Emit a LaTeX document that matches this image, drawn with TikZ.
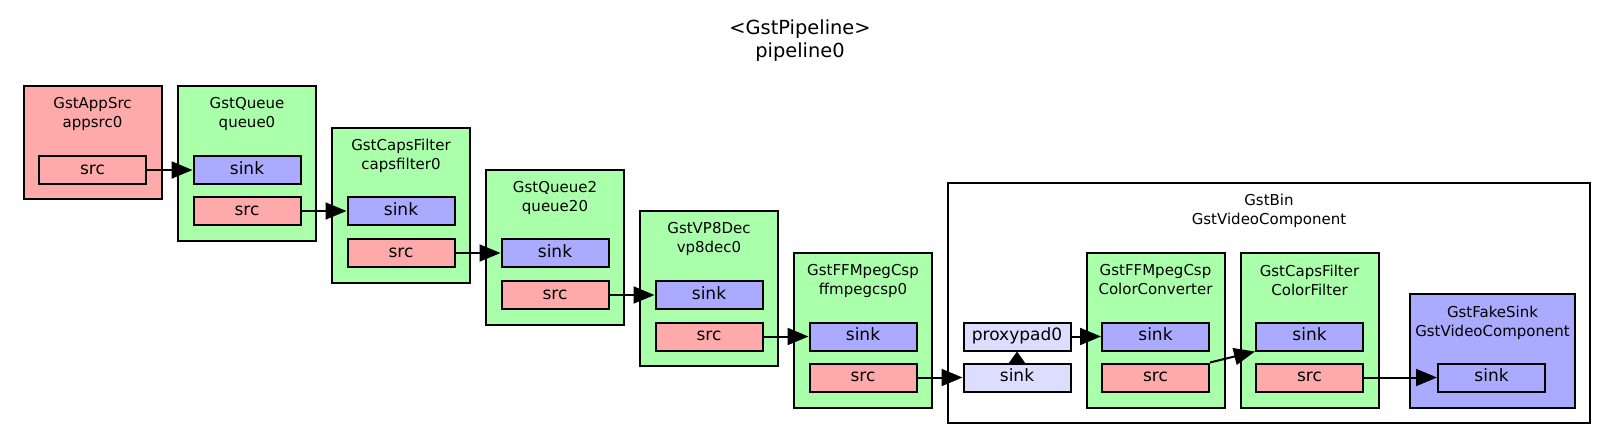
\documentclass[tikz,border=0pt]{standalone}
\usepackage{fontspec}
\setmainfont{DejaVu Sans}
\usetikzlibrary{arrows.meta}
\definecolor{srccol}{HTML}{FFAAAA}
\definecolor{sinkcol}{HTML}{AAAAFF}
\definecolor{elemcol}{HTML}{AAFFAA}
\definecolor{proxycol}{HTML}{DDDDFF}
\begin{document}
\begin{tikzpicture}
	[x=1pt,y=-1pt,line width=2pt,>={Triangle[length=21pt,width=17pt]},
	elem/.style={draw,fill=elemcol,minimum width=138pt,minimum height=155pt,inner sep=0pt},
	bin/.style={draw,fill=white,inner sep=0pt},
	pad/.style={draw,minimum width=107pt,minimum height=28pt,inner sep=0pt,text height=12.5pt,text depth=3.9pt,font=\fontsize{17}{20}\selectfont},
	sinkpad/.style={pad,fill=sinkcol},
	srcpad/.style={pad,fill=srccol},
	proxypad/.style={pad,fill=proxycol},
	elemname/.style={label={[anchor=north,inner sep=0pt,yshift=-11.6pt,align=center,font=\fontsize{15}{19}\selectfont]north:{#1}}}]
\useasboundingbox (0,0) rectangle (1600,447);
\node[align=center,font=\fontsize{19.4}{23}\selectfont] (pipeline) at (800,40.5) {<GstPipeline>\\pipeline0};
\node[elem,fill=srccol,minimum height=113pt,elemname={GstAppSrc\\appsrc0}] (appsrc) at (92.5,142.5) {};
\node[elem,elemname={GstQueue\\queue0}] (queue) at (247,163.5) {};
\node[elem,elemname={GstCapsFilter\\capsfilter0}] (capsfilter) at (401,205.5) {};
\node[elem,elemname={GstQueue2\\queue20}] (queuetwo) at (555,247.5) {};
\node[elem,elemname={GstVP8Dec\\vp8dec0}] (vpdec) at (709,288.5) {};
\node[elem,elemname={GstFFMpegCsp\\ffmpegcsp0}] (ffmpegcsp) at (863,330.5) {};
\node[bin,minimum width=642pt,minimum height=240pt,elemname={GstBin\\GstVideoComponent}] (videobin) at (1269,303) {};
\node[elem,elemname={GstFFMpegCsp\\ColorConverter}] (converter) at (1155.5,330.5) {};
\node[elem,elemname={GstCapsFilter\\ColorFilter}] (colorfilter) at (1309.5,330.5) {};
\node[elem,fill=sinkcol,minimum width=165pt,minimum height=114pt,elemname={GstFakeSink\\GstVideoComponent}] (fakesink) at (1492.5,351) {};
\node[srcpad] (appsrcsrc) at (92.5,170) {src};
\node[sinkpad] (queuesink) at (247,170) {sink};
\node[srcpad] (queuesrc) at (247,211) {src};
\node[sinkpad] (capssink) at (401,211) {sink};
\node[srcpad] (capssrc) at (401,253) {src};
\node[sinkpad] (queuetwosink) at (555,253) {sink};
\node[srcpad] (queuetwosrc) at (555,295) {src};
\node[sinkpad] (vpdecsink) at (709,295) {sink};
\node[srcpad] (vpdecsrc) at (709,336.5) {src};
\node[sinkpad] (ffmpegsink) at (863,336.5) {sink};
\node[srcpad] (ffmpegsrc) at (863,377.5) {src};
\node[proxypad] (proxypad0) at (1017,336.5) {proxypad0};
\node[proxypad] (binsink) at (1017,377.5) {sink};
\node[sinkpad] (convsink) at (1155.5,336.5) {sink};
\node[srcpad] (convsrc) at (1155.5,377.5) {src};
\node[sinkpad] (filtersink) at (1309.5,336.5) {sink};
\node[srcpad] (filtersrc) at (1309.5,377.5) {src};
\node[sinkpad] (fakesinksink) at (1491.5,377.5) {sink};
\draw[->] (appsrcsrc) -- (queuesink);
\draw[->] (queuesrc) -- (capssink);
\draw[->] (capssrc) -- (queuetwosink);
\draw[->] (queuetwosrc) -- (vpdecsink);
\draw[->] (vpdecsrc) -- (ffmpegsink);
\draw[->] (ffmpegsrc) -- (binsink);
\draw[-{Triangle[length=13pt,width=18pt]}] (binsink.north) -- (proxypad0.south);
\draw[->] (proxypad0) -- (convsink);
\draw[->] (convsrc.north east) -- (filtersink.south west);
\draw[->] (filtersrc) -- (fakesinksink);
\end{tikzpicture}
\end{document}
